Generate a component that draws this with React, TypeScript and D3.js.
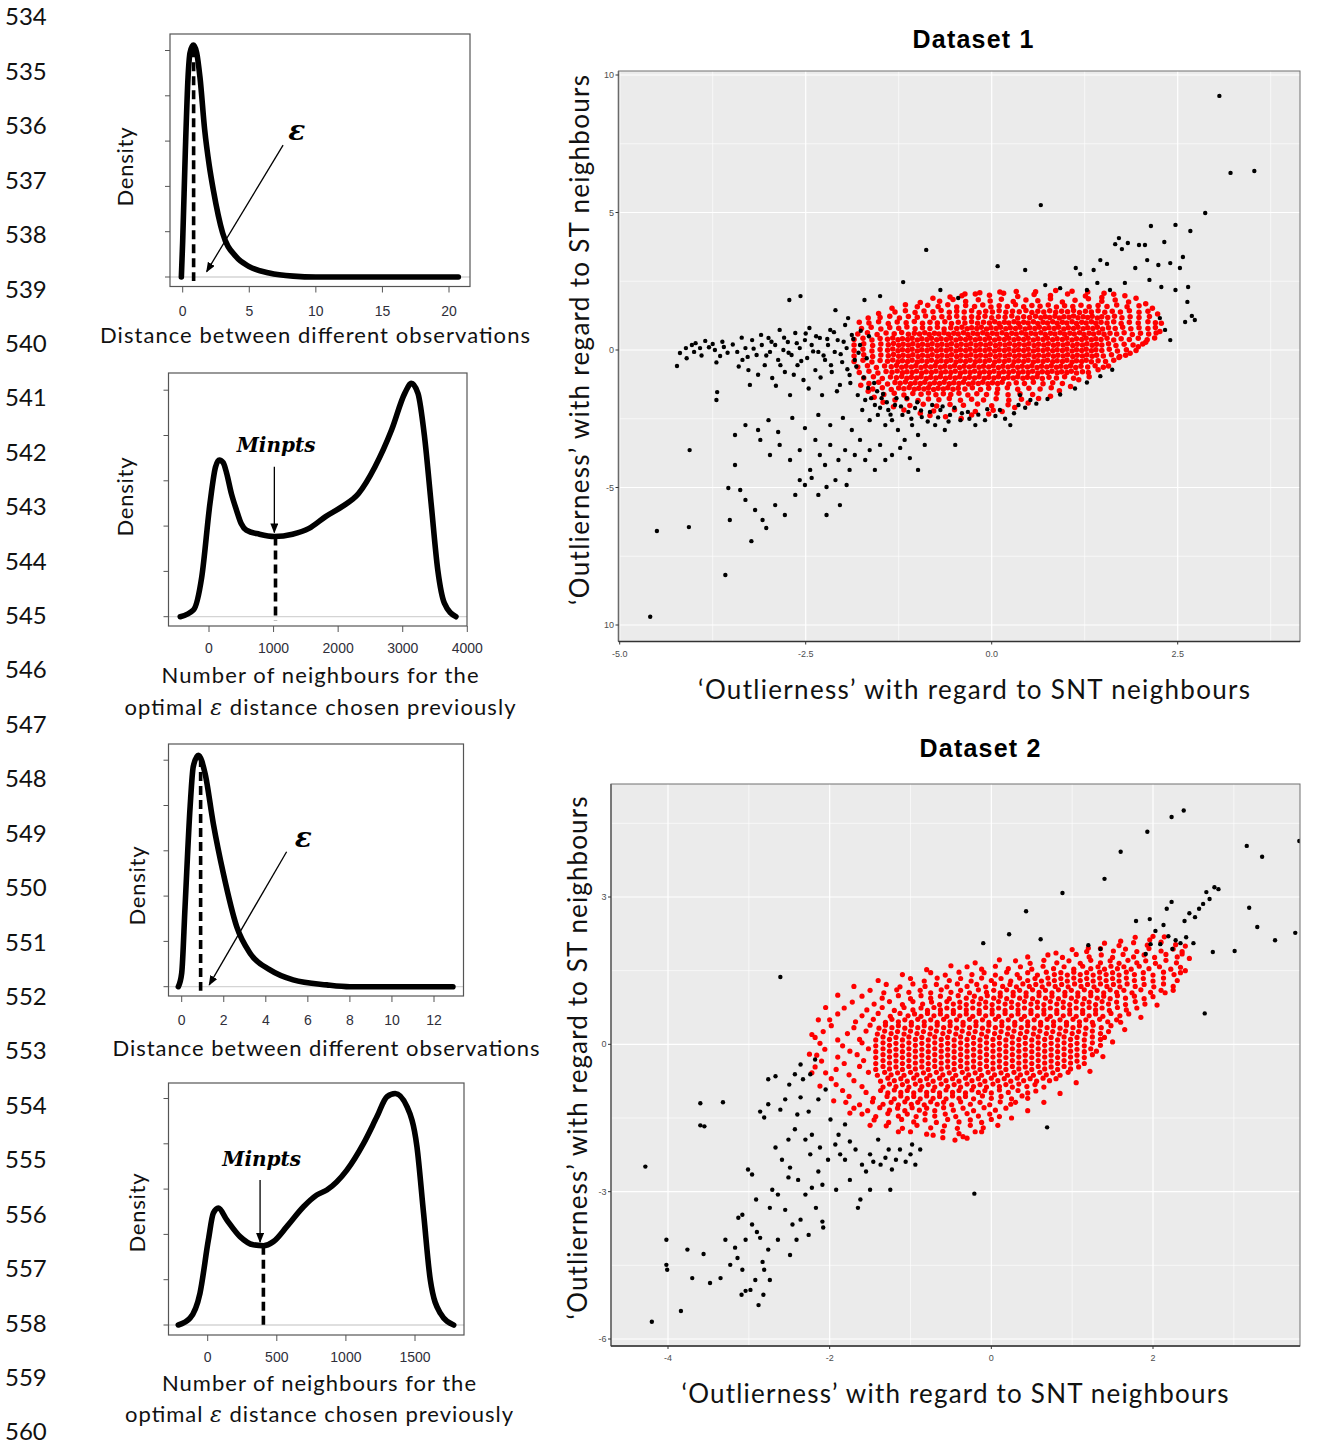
import React from "react";
import * as d3 from "d3";

// ---------- text / labels ----------
const LINE_NUMBERS = ["534","535","536","537","538","539","540","541","542","543","544","545","546","547","548","549","550","551","552","553","554","555","556","557","558","559","560"];
const DENSITY_TICKS = [0, 0.1, 0.2, 0.3, 0.4, 0.5];

// ---------- density panel data (x value, density) ----------
const P1_X = [-0.1, 0, 0.2, 0.4, 0.55, 0.8, 1.05, 1.3, 1.65, 2.0, 2.3, 3.0, 4.0, 5.0, 6.5, 8.3, 10, 20.7];
const P1_D = [0, 0.08, 0.28, 0.44, 0.495, 0.512, 0.495, 0.44, 0.325, 0.245, 0.192, 0.097, 0.045, 0.023, 0.009, 0.002, 0, 0];
const P1_TICKS = [0, 5, 10, 15, 20];

const P2_X = [-445, -240, -112, 15, 100, 160, 220, 271, 350, 424, 500, 578, 782, 1012, 1293, 1549, 1805, 2060, 2316, 2571, 2827, 3031, 3133, 3236, 3338, 3440, 3543, 3645, 3824];
const P2_D = [0, 0.015, 0.088, 0.25, 0.33, 0.346, 0.34, 0.318, 0.27, 0.236, 0.205, 0.191, 0.182, 0.177, 0.182, 0.195, 0.221, 0.243, 0.272, 0.331, 0.412, 0.493, 0.515, 0.493, 0.397, 0.25, 0.103, 0.03, 0];
const P2_TICKS = [0, 1000, 2000, 3000, 4000];

const P3_X = [-0.16, 0, 0.16, 0.4, 0.55, 0.79, 1.11, 1.5, 1.98, 2.62, 3.25, 4.2, 5.3, 6.9, 8, 12.9];
const P3_D = [0, 0.03, 0.177, 0.397, 0.486, 0.511, 0.471, 0.361, 0.25, 0.132, 0.074, 0.037, 0.015, 0.004, 0, 0];
const P3_TICKS = [0, 2, 4, 6, 8, 10, 12];

const P4_X = [-213, -128, -56, 5, 41, 77, 138, 234, 330, 403, 475, 572, 693, 789, 862, 1007, 1128, 1225, 1297, 1357, 1442, 1514, 1562, 1611, 1683, 1780];
const P4_D = [0, 0.015, 0.07, 0.188, 0.247, 0.258, 0.232, 0.195, 0.177, 0.175, 0.184, 0.217, 0.261, 0.287, 0.298, 0.342, 0.401, 0.46, 0.504, 0.511, 0.482, 0.394, 0.247, 0.099, 0.026, 0];
const P4_TICKS = [0, 500, 1000, 1500];

// ---------- scatter data (x,y pairs, values x100) ----------
const DS1_RED = [
-40,197, -22,204, -3,199, 16,206, 35,195, 57,202, 79,198, 102,204, 126,196, 148,191,
-70,177, -52,184, -35,176, -18,183, -2,178, 13,185, 29,176, 46,182, 62,179, 79,186, 95,175, 112,181, 130,186, 148,177, 166,182, 184,175,
-100,157, -86,163, -72,158, -59,165, -47,156, -35,162, -23,158, -12,164, -1,156, 10,161, 21,158, 32,165, 43,157, 54,162, 65,159, 76,164, 87,156, 98,161, 109,158, 120,163, 131,157, 143,162, 155,158, 168,164, 182,157, 198,161,
-130,138, -116,143, -103,136, -91,142, -79,139, -68,144, -57,137, -47,141, -37,138, -27,143, -17,136, -8,141, 1,138, 10,143, 19,137, 28,141, 37,139, 46,144, 54,136, 62,141, 70,138, 78,143, 86,137, 94,141, 102,139, 110,144, 118,136, 126,141, 134,138, 143,143, 152,137, 162,141, 173,138, 185,143, 198,137, 210,141,
-150,118, -137,123, -124,116, -112,122, -100,119, -89,124, -78,117, -67,121, -57,118, -47,123, -37,116, -27,121, -18,118, -9,123, 0,117, 9,121, 18,119, 27,124, 35,116, 43,121, 51,118, 59,123, 66,117, 72,121, 78,118, 85,123, 91,116, 97,121, 104,119, 110,124, 116,117, 123,121, 129,118, 135,123, 142,116, 148,121, 156,118, 165,123, 175,117, 186,121, 198,118, 212,122,
-165,98, -152,103, -139,96, -127,102, -115,99, -104,104, -93,97, -83,101, -73,98, -63,103, -54,96, -45,101, -36,98, -27,103, -19,97, -11,101, -3,98, 4,103, 10,96, 17,101, 23,98, 30,103, 36,97, 43,101, 49,98, 56,103, 62,96, 69,101, 75,98, 82,103, 88,97, 95,101, 101,98, 108,103, 114,96, 121,101, 127,98, 134,103, 140,97, 147,101, 155,98, 164,103, 174,96, 185,101, 197,98, 210,103, 220,99,
-175,78, -162,83, -149,76, -137,82, -125,79, -114,84, -103,77, -93,81, -83,78, -73,83, -64,76, -55,81, -47,78, -40,83, -33,77, -27,81, -20,78, -14,83, -7,76, -1,81, 6,78, 12,83, 19,77, 25,81, 32,78, 38,83, 45,76, 51,81, 58,78, 64,83, 71,77, 77,81, 84,78, 90,83, 97,76, 103,81, 110,78, 116,83, 123,77, 129,81, 136,78, 142,83, 149,76, 157,81, 166,78, 176,83, 187,77, 198,81, 210,78, 220,82,
-180,58, -167,63, -154,56, -142,62, -131,59, -121,64, -112,57, -104,61, -97,58, -90,63, -84,56, -77,61, -71,58, -64,63, -58,57, -51,61, -45,58, -38,63, -32,56, -25,61, -19,58, -12,63, -6,57, 1,61, 7,58, 14,63, 20,56, 27,61, 33,58, 40,63, 46,57, 53,61, 59,58, 66,63, 72,56, 79,61, 85,58, 92,63, 98,57, 105,61, 111,58, 118,63, 124,56, 131,61, 137,58, 144,63, 151,57, 159,61, 168,58, 178,63, 189,56, 200,61, 211,58, 221,62,
-185,38, -173,43, -161,36, -150,42, -140,39, -133,44, -126,37, -120,41, -113,38, -107,43, -100,36, -94,41, -87,38, -81,43, -74,37, -68,41, -61,38, -55,43, -48,36, -42,41, -35,38, -29,43, -22,37, -16,41, -9,38, -3,43, 4,36, 10,41, 17,38, 23,43, 30,37, 36,41, 43,38, 49,43, 56,36, 62,41, 69,38, 75,43, 82,37, 88,41, 95,38, 101,43, 108,36, 114,41, 121,38, 127,43, 134,37, 140,41, 147,38, 155,43, 164,36, 174,41, 185,38, 197,43, 209,37,
-185,18, -172,23, -160,16, -149,22, -139,19, -132,24, -125,17, -119,21, -112,18, -106,23, -99,16, -93,21, -86,18, -80,23, -73,17, -67,21, -60,18, -54,23, -47,16, -41,21, -34,18, -28,23, -21,17, -15,21, -8,18, -2,23, 5,16, 11,21, 18,18, 24,23, 31,17, 37,21, 44,18, 50,23, 57,16, 63,21, 70,18, 76,23, 83,17, 89,21, 96,18, 102,23, 109,16, 115,21, 122,18, 128,23, 135,17, 141,21, 148,18, 157,23, 167,16, 178,21, 190,18, 203,22,
-185,-2, -173,3, -161,-4, -150,2, -140,-1, -133,4, -126,-3, -120,1, -113,-2, -107,3, -100,-4, -94,1, -87,-2, -81,3, -74,-3, -68,1, -61,-2, -55,3, -48,-4, -42,1, -35,-2, -29,3, -22,-3, -16,1, -9,-2, -3,3, 4,-4, 10,1, 17,-2, 23,3, 30,-3, 36,1, 43,-2, 49,3, 56,-4, 62,1, 69,-2, 75,3, 82,-3, 88,1, 95,-2, 101,3, 108,-4, 114,1, 121,-2, 127,3, 134,-3, 140,1, 148,-2, 158,3, 169,-4, 181,1, 194,-2,
-185,-22, -172,-17, -160,-24, -149,-18, -139,-21, -132,-16, -125,-23, -119,-19, -112,-22, -106,-17, -99,-24, -93,-19, -86,-22, -80,-17, -73,-23, -67,-19, -60,-22, -54,-17, -47,-24, -41,-19, -34,-22, -28,-17, -21,-23, -15,-19, -8,-22, -2,-17, 5,-24, 11,-19, 18,-22, 24,-17, 31,-23, 37,-19, 44,-22, 50,-17, 57,-24, 63,-19, 70,-22, 76,-17, 83,-23, 89,-19, 96,-22, 102,-17, 109,-24, 115,-19, 122,-22, 128,-17, 135,-23, 141,-19, 150,-22, 161,-17, 172,-24, 180,-19,
-185,-42, -173,-37, -161,-44, -150,-38, -140,-41, -133,-36, -126,-43, -120,-39, -113,-42, -107,-37, -100,-44, -94,-39, -87,-42, -81,-37, -74,-43, -68,-39, -61,-42, -55,-37, -48,-44, -42,-39, -35,-42, -29,-37, -22,-43, -16,-39, -9,-42, -3,-37, 4,-44, 10,-39, 17,-42, 23,-37, 30,-43, 36,-39, 43,-42, 49,-37, 56,-44, 62,-39, 69,-42, 75,-37, 82,-43, 88,-39, 95,-42, 101,-37, 108,-44, 114,-39, 121,-42, 127,-37, 134,-43, 143,-39, 153,-42, 164,-37,
-180,-62, -167,-57, -155,-64, -144,-58, -135,-61, -128,-56, -121,-63, -115,-59, -108,-62, -102,-57, -95,-64, -89,-59, -82,-62, -76,-57, -69,-63, -63,-59, -56,-62, -50,-57, -43,-64, -37,-59, -30,-62, -24,-57, -17,-63, -11,-59, -4,-62, 2,-57, 9,-64, 15,-59, 22,-62, 28,-57, 35,-63, 41,-59, 48,-62, 54,-57, 61,-64, 67,-59, 74,-62, 80,-57, 87,-63, 93,-59, 100,-62, 106,-57, 113,-64, 120,-59, 129,-62, 139,-57, 150,-63,
-178,-82, -165,-77, -153,-84, -142,-78, -134,-81, -127,-76, -120,-83, -114,-79, -107,-82, -101,-77, -94,-84, -88,-79, -81,-82, -75,-77, -68,-83, -62,-79, -55,-82, -49,-77, -42,-84, -36,-79, -29,-82, -23,-77, -16,-83, -10,-79, -3,-82, 3,-77, 10,-84, 16,-79, 23,-82, 29,-77, 36,-83, 42,-79, 49,-82, 55,-77, 62,-84, 68,-79, 75,-82, 81,-77, 88,-83, 94,-79, 101,-82, 107,-77, 114,-84, 122,-79, 130,-82,
-172,-102, -159,-97, -147,-104, -136,-98, -128,-101, -121,-96, -114,-103, -108,-99, -101,-102, -95,-97, -88,-104, -82,-99, -75,-102, -69,-97, -62,-103, -56,-99, -49,-102, -43,-97, -36,-104, -30,-99, -23,-102, -17,-97, -10,-103, -4,-99, 3,-102, 9,-97, 16,-104, 22,-99, 29,-102, 35,-97, 42,-103, 48,-99, 55,-102, 61,-97, 68,-104, 77,-99, 87,-102, 98,-97, 110,-103,
-165,-122, -152,-117, -140,-124, -130,-118, -123,-121, -116,-116, -109,-123, -103,-119, -96,-122, -90,-117, -83,-124, -77,-119, -70,-122, -64,-117, -57,-123, -51,-119, -44,-122, -38,-117, -31,-124, -25,-119, -18,-122, -12,-117, -5,-123, 1,-119, 8,-122, 14,-117, 23,-124, 33,-119, 44,-122, 56,-117, 69,-123, 82,-119, 95,-122,
-160,-142, -147,-137, -135,-144, -125,-138, -118,-141, -111,-136, -104,-143, -98,-139, -91,-142, -85,-137, -78,-144, -72,-139, -65,-142, -59,-137, -52,-143, -45,-139, -36,-142, -26,-137, -15,-144, -4,-139, 8,-142, 21,-137, 35,-143, 50,-139, 65,-142, 80,-137,
-145,-162, -131,-157, -118,-164, -106,-158, -95,-161, -85,-156, -75,-163, -65,-159, -55,-162, -44,-157, -32,-164, -20,-159, -7,-162, 7,-157, 22,-163, 38,-159, 55,-162,
-130,-182, -114,-177, -99,-184, -85,-178, -71,-181, -57,-176, -42,-183, -27,-179, -11,-182, 6,-177, 23,-183, 40,-179,
-110,-202, -92,-197, -74,-204, -56,-198, -38,-201, -19,-196, 0,-203, 22,-199,
-78,-222, -50,-217, -22,-224, 2,-219,
-176,-128, -166,-150, -158,-172, -146,-190, -132,-206, -118,-218, -96,-230, -83,-238, -62,-243, -41,-249, -27,-236, -4,-233, 14,-224, 31,-209, 49,-193, 63,-176, 79,-168, 91,-148, 106,-133, 117,-108, 131,-97, 143,-72, 157,-58, 171,-27, 186,-12, 197,12, 207,28, 219,44, 226,67, 228,97, 223,131, 216,152, 207,168, 194,188, 179,197, 164,203, 151,206, 129,211, 108,214, 86,216, 59,212, 33,213, 11,211, -16,208, -36,204, -56,193, -79,188, -96,173, -116,165, -134,152, -152,133, -166,116, -178,101
];

const DS1_BLACK = [
306,924, 321,644, 353,651, 66,527, 287,498, 267,433, 247,455, 214,451, 232,393, 198,382, 166,385, 175,367, 183,389, 146,327, 155,313, 137,291, 119,276, 113,298, 193,298, 209,327, 224,309, 240,316, 253,298, 257,338, 212,255, 228,229, 247,218, 264,229, 263,175, 269,124, 273,109, 260,102, 233,73, 240,36, 226,116, 179,244, 159,218, 142,244, 128,218, 92,225, 72,236, 8,305, 45,291, 206,382, 171,407,
-88,364, -119,247, -150,196, -171,182, -257,196, -272,182, -210,145, -193,116, -45,189, -69,218,
-423,-58, -419,-11, -411,7, -403,18, -392,7, -400,-7, -385,33, -375,22, -372,0, -365,-22, -360,11, -406,-364, -369,-153, -370,-182,
-342,-7, -335,-36, -331,7, -327,-73, -325,-127, -322,36, -316,-18, -309,18, -305,-55, -300,44, -298,-7, -295,-102, -291,18, -287,-36, -285,73, -280,0, -278,-80, -274,29, -271,-164, -269,-18, -264,62, -261,-55, -258,7, -253,-109, -251,36, -248,-29, -245,80, -242,18, -237,-73, -233,-7, -231,44, -228,-164, -224,-36, -220,18, -217,73, -215,-80, -211,-7, -207,36, -204,-127, -201,-44, -197,91, -195,7, -191,-91, -188,55, -184,-36, -180,-164, -177,18,
-174,-218, -170,-182, -166,-138, -164,-255, -157,-200, -153,-236, -148,-175, -143,-273, -139,-218, -134,-255, -130,-200, -126,-291, -120,-236, -117,-327, -112,-225, -107,-273, -103,-211, -99,-309, -94,-244, -90,-345, -83,-225, -76,-273, -69,-218, -63,-291, -56,-236, -49,-345, -42,-255, -32,-225, -22,-273, -9,-255, 11,-218, 25,-273, 36,-200, 52,-182, 38,-164,
-311,-327, -298,-382, -285,-345, -271,-400, -258,-364, -244,-436, -237,-327, -231,-382, -224,-418, -217,-345, -210,-473, -206,-400, -197,-364, -191,-436, -184,-382, -177,-327, -170,-400, -164,-364, -157,-436, -150,-345, -143,-400, -134,-382, -123,-356, -110,-393, -99,-436,
-258,-473, -251,-491, -242,-465, -233,-527, -222,-498, -204,-564, -222,-600, -195,-491, -345,-418, -338,-509, -354,-502, -331,-545, -318,-582, -308,-618, -303,-647, -291,-564, -278,-600, -264,-527, -352,-618,
-345,-309, -331,-273, -314,-291, -300,-255, -287,-298, -268,-247, -251,-284, -233,-236, -217,-273, -200,-247, -188,-291,
-459,-970, -450,-658, -407,-644, -358,-818, -323,-695,
-410,-30, -398,25, -390,-20, -380,10, -370,-45, -362,30, -355,-10, -348,20, -340,-60, -336,45, -328,-25, -320,5, -314,-90, -310,55, -303,-20, -296,30, -290,-130, -284,-55, -279,45, -273,-10, -266,-90, -262,25, -256,-40, -250,60, -246,-140, -240,-5, -236,50, -230,-100, -226,-20, -221,40, -216,-55, -212,65, -208,-150, -203,-15, -199,30, -194,-70, -190,-120, -186,40, -182,-60, -179,-10, -176,70, -172,-100, -168,-30, -165,50,
-162,-175, -158,-120, -154,-150, -150,-210, -146,-160, -141,-190, -136,-235, -128,-175, -122,-205, -114,-175, -108,-250, -100,-190, -95,-220, -86,-260, -80,-200, -72,-245, -66,-205, -58,-260, -50,-210, -40,-230, -30,-250, -18,-235, -6,-215, 5,-240, 18,-250, 30,-230, 45,-210, 60,-195, 75,-178, 92,-162, 112,-140, 128,-118, 146,-95, 162,-72
];

const DS2_RED = [
178,218, 196,213, 214,219,
140,206, 158,201, 176,207, 193,202, 210,208, 228,203,
100,193, 118,189, 135,195, 151,190, 166,194, 180,189, 195,195, 210,190, 225,194, 236,189,
70,182, 88,177, 105,183, 121,178, 136,182, 150,177, 163,183, 176,178, 189,182, 202,177, 216,183, 230,178, 236,184,
30,170, 48,165, 65,171, 81,166, 96,170, 110,165, 123,171, 135,166, 147,170, 158,165, 169,171, 180,166, 191,170, 203,165, 216,171, 229,166,
-30,158, -12,153, 5,159, 21,154, 36,158, 50,153, 64,159, 77,154, 90,158, 102,153, 113,159, 123,154, 132,158, 140,153, 148,159, 156,154, 164,158, 173,153, 183,159, 195,154, 208,158, 222,153, 234,157,
-75,146, -57,141, -40,147, -24,142, -9,146, 5,141, 19,147, 32,142, 45,146, 57,141, 68,147, 78,142, 86,146, 94,141, 102,147, 110,142, 118,146, 126,141, 134,147, 142,142, 150,146, 158,141, 167,147, 177,142, 188,146, 200,141, 213,147, 226,142, 234,146,
-100,134, -83,129, -67,135, -52,130, -38,134, -25,129, -12,135, 0,130, 12,134, 24,129, 35,135, 45,130, 54,134, 62,129, 70,135, 78,130, 86,134, 94,129, 102,135, 110,130, 118,134, 126,129, 134,135, 142,130, 150,134, 158,129, 167,135, 177,130, 188,134, 200,129, 213,135, 230,130,
-130,122, -113,117, -97,123, -82,118, -68,122, -55,117, -42,123, -30,118, -18,122, -7,117, 4,123, 14,118, 23,122, 31,117, 39,123, 47,118, 55,122, 63,117, 71,123, 79,118, 87,122, 95,117, 103,123, 111,118, 119,122, 127,117, 135,123, 143,118, 151,122, 159,117, 168,123, 178,118, 189,122, 201,117, 213,123, 225,118,
-150,110, -133,105, -117,111, -102,106, -88,110, -75,105, -62,111, -50,106, -38,110, -27,105, -16,111, -6,106, 3,110, 11,105, 19,111, 27,106, 35,110, 43,105, 51,111, 59,106, 67,110, 75,105, 83,111, 91,106, 99,110, 107,105, 115,111, 123,106, 131,110, 139,105, 147,111, 155,106, 164,110, 174,105, 185,111, 197,106, 210,110, 215,105,
-160,98, -135,94, -115,99, -100,93, -87,99, -75,94, -63,98, -52,93, -41,99, -31,94, -21,98, -13,93, -5,99, 3,94, 11,98, 19,93, 27,99, 35,94, 43,98, 51,93, 59,99, 67,94, 75,98, 83,93, 91,99, 99,94, 107,98, 115,93, 123,99, 131,94, 139,98, 147,93, 156,99, 166,94, 177,98, 189,93, 200,97,
-172,86, -145,82, -126,87, -110,81, -97,87, -85,82, -74,86, -64,81, -55,87, -47,82, -39,86, -31,81, -23,87, -15,82, -7,86, 1,81, 9,87, 17,82, 25,86, 33,81, 41,87, 49,82, 57,86, 65,81, 73,87, 81,82, 89,86, 97,81, 105,87, 113,82, 121,86, 129,81, 137,87, 145,82, 155,86, 166,81, 178,87, 190,82,
-182,74, -154,70, -135,75, -120,69, -108,75, -97,70, -87,74, -79,69, -71,75, -63,70, -55,74, -47,69, -39,75, -31,70, -23,74, -15,69, -7,75, 1,70, 9,74, 17,69, 25,75, 33,70, 41,74, 49,69, 57,75, 65,70, 73,74, 81,69, 89,75, 97,70, 105,74, 113,69, 121,75, 129,70, 137,74, 146,69, 156,75, 167,70, 180,74,
-190,62, -160,58, -140,63, -125,57, -113,63, -103,58, -95,62, -87,57, -79,63, -71,58, -63,62, -55,57, -47,63, -39,58, -31,62, -23,57, -15,63, -7,58, 1,62, 9,57, 17,63, 25,58, 33,62, 41,57, 49,63, 57,58, 65,62, 73,57, 81,63, 89,58, 97,62, 105,57, 113,63, 121,58, 129,62, 138,57, 148,63, 159,58, 170,62,
-200,50, -168,46, -146,51, -131,45, -123,51, -115,46, -107,50, -99,45, -91,51, -83,46, -75,50, -67,45, -59,51, -51,46, -43,50, -35,45, -27,51, -19,46, -11,50, -3,45, 5,51, 13,46, 21,50, 29,45, 37,51, 45,46, 53,50, 61,45, 69,51, 77,46, 85,50, 93,45, 101,51, 109,46, 117,50, 125,45, 134,51, 144,46, 155,50, 160,45,
-198,38, -170,34, -150,39, -139,33, -131,39, -123,34, -115,38, -107,33, -99,39, -91,34, -83,38, -75,33, -67,39, -59,34, -51,38, -43,33, -35,39, -27,34, -19,38, -11,33, -3,39, 5,34, 13,38, 21,33, 29,39, 37,34, 45,38, 53,33, 61,39, 69,34, 77,38, 85,33, 93,39, 101,34, 109,38, 117,33, 126,39, 136,34, 148,38,
-208,26, -178,22, -155,27, -141,21, -132,27, -124,22, -116,26, -108,21, -100,27, -92,22, -84,26, -76,21, -68,27, -60,22, -52,26, -44,21, -36,27, -28,22, -20,26, -12,21, -4,27, 4,22, 12,26, 20,21, 28,27, 36,22, 44,26, 52,21, 60,27, 68,22, 76,26, 84,21, 92,27, 100,22, 108,26, 116,21, 125,27, 135,22, 145,26,
-218,14, -190,9, -163,10, -143,9, -134,15, -126,10, -118,14, -110,9, -102,15, -94,10, -86,14, -78,9, -70,15, -62,10, -54,14, -46,9, -38,15, -30,10, -22,14, -14,9, -6,15, 2,10, 10,14, 18,9, 26,15, 34,10, 42,14, 50,9, 58,15, 66,10, 74,14, 82,9, 90,15, 98,10, 106,14, 115,9, 125,15, 135,10, 140,14,
-212,2, -184,-3, -160,3, -143,-3, -134,3, -126,-2, -118,2, -110,-3, -102,3, -94,-2, -86,2, -78,-3, -70,3, -62,-2, -54,2, -46,-3, -38,3, -30,-2, -22,2, -14,-3, -6,3, 2,-2, 10,2, 18,-3, 26,3, 34,-2, 42,2, 50,-3, 58,3, 66,-2, 74,2, 82,-3, 90,3, 98,-2, 106,2, 115,-3, 125,3, 135,-2,
-206,-10, -175,-14, -152,-9, -143,-15, -134,-9, -126,-14, -118,-10, -110,-15, -102,-9, -94,-14, -86,-10, -78,-15, -70,-9, -62,-14, -54,-10, -46,-15, -38,-9, -30,-14, -22,-10, -14,-15, -6,-9, 2,-14, 10,-10, 18,-15, 26,-9, 34,-14, 42,-10, 50,-15, 58,-9, 66,-14, 74,-10, 82,-15, 90,-9, 98,-14, 106,-10, 115,-15, 123,-9, 130,-14,
-216,-22, -190,-26, -166,-21, -143,-27, -134,-21, -126,-26, -118,-22, -110,-27, -102,-21, -94,-26, -86,-22, -78,-27, -70,-21, -62,-26, -54,-22, -46,-27, -38,-21, -30,-26, -22,-22, -14,-27, -6,-21, 2,-26, 10,-22, 18,-27, 26,-21, 34,-26, 42,-22, 50,-27, 58,-21, 66,-26, 74,-22, 82,-27, 90,-21, 98,-26, 106,-22, 115,-27, 125,-21,
-210,-34, -182,-39, -158,-33, -143,-39, -134,-33, -126,-38, -118,-34, -110,-39, -102,-33, -94,-38, -86,-34, -78,-39, -70,-33, -62,-38, -54,-34, -46,-39, -38,-33, -30,-38, -22,-34, -14,-39, -6,-33, 2,-38, 10,-34, 18,-39, 26,-33, 34,-38, 42,-34, 50,-39, 58,-33, 66,-38, 74,-34, 82,-39, 90,-33, 98,-38, 106,-34, 115,-39,
-218,-46, -192,-51, -163,-45, -143,-51, -134,-45, -126,-50, -118,-46, -110,-51, -102,-45, -94,-50, -86,-46, -78,-51, -70,-45, -62,-50, -54,-46, -46,-51, -38,-45, -30,-50, -22,-46, -14,-51, -6,-45, 2,-50, 10,-46, 18,-51, 26,-45, 34,-50, 42,-46, 50,-51, 58,-45, 66,-50, 74,-46, 82,-51, 90,-45, 98,-50, 108,-46,
-205,-58, -176,-62, -152,-57, -141,-63, -132,-57, -124,-62, -116,-58, -108,-63, -100,-57, -92,-62, -84,-58, -76,-63, -68,-57, -60,-62, -52,-58, -44,-63, -36,-57, -28,-62, -20,-58, -12,-63, -4,-57, 4,-62, 12,-58, 20,-63, 28,-57, 36,-62, 44,-58, 52,-63, 60,-57, 68,-62, 76,-58, 85,-63, 95,-57,
-198,-70, -170,-74, -137,-75, -128,-69, -120,-74, -112,-70, -104,-75, -96,-69, -88,-74, -80,-70, -72,-75, -64,-69, -56,-74, -48,-70, -40,-75, -32,-69, -24,-74, -16,-70, -8,-75, 0,-69, 8,-74, 16,-70, 24,-75, 32,-69, 40,-74, 48,-70, 56,-75, 64,-69, 72,-74, 80,-70,
-192,-82, -160,-86, -134,-87, -126,-81, -118,-86, -110,-82, -102,-87, -94,-81, -86,-86, -78,-82, -70,-87, -62,-81, -54,-86, -46,-82, -38,-87, -30,-81, -22,-86, -14,-82, -6,-87, 2,-81, 10,-86, 18,-82, 26,-87, 34,-81, 44,-86, 54,-82, 65,-87,
-184,-94, -155,-98, -137,-94, -128,-99, -120,-93, -112,-98, -104,-94, -96,-99, -88,-93, -80,-98, -72,-94, -64,-99, -56,-93, -48,-98, -40,-94, -32,-99, -24,-93, -16,-98, -8,-94, 0,-99, 10,-93, 21,-98, 33,-94, 45,-99, 55,-95,
-176,-106, -146,-110, -129,-106, -120,-111, -112,-105, -104,-110, -96,-106, -88,-111, -80,-105, -72,-110, -64,-106, -56,-111, -48,-105, -40,-110, -32,-106, -22,-111, -11,-105, 0,-110, 12,-106, 25,-111, 38,-105, 45,-110,
-180,-118, -163,-123, -147,-117, -134,-122, -124,-118, -115,-123, -107,-117, -99,-122, -91,-118, -83,-123, -75,-117, -67,-122, -59,-118, -49,-123, -38,-117, -26,-122, -14,-118, -2,-123, 11,-117, 24,-122, 30,-118,
-170,-130, -153,-135, -138,-129, -126,-134, -116,-130, -107,-135, -98,-129, -89,-134, -80,-130, -70,-135, -59,-129, -47,-134, -35,-130, -22,-135, -9,-129, 5,-134, 18,-130,
-160,-142, -143,-147, -128,-141, -115,-146, -104,-142, -93,-147, -82,-141, -70,-146, -57,-142, -44,-147, -30,-141, -16,-146, -2,-142, 10,-147,
-145,-154, -127,-159, -111,-153, -96,-158, -82,-154, -68,-159, -54,-153, -40,-158, -26,-154, -12,-159, 0,-153,
-130,-166, -110,-171, -92,-165, -75,-170, -58,-166, -42,-171, -26,-165, -10,-170,
-100,-178, -80,-183, -60,-177, -40,-182, -20,-178,
-60,-190, -45,-195, -30,-191,
-140,130, -110,142, -80,152, -50,160, -20,166, 10,172, 45,178, 80,186, 120,196, 160,210, 200,220, 240,200, 245,175, 240,150, 225,110, 205,80, 185,55, 165,30, 150,5, 138,-25, 122,-55, 105,-78, 85,-100, 65,-118, 45,-135, 25,-150, 8,-165, -12,-178, -35,-188, -72,-185, -115,-178, -150,-165, -175,-140, -195,-115, -212,-85, -222,-58, -225,-20, -222,20, -214,50, -205,75, -190,100, -170,118
];

const DS2_BLACK = [
238,476, 223,463, 193,433, 160,392, 316,404, 335,382, 381,414, 140,337, 88,308, 276,320, 281,316, 266,310, 270,296, 262,286, 257,276, 252,259, 245,267, 239,251, 223,290, 217,276, 43,271, 319,278, 329,239, 376,227, 351,212, 301,190, 274,188, 264,63, 179,251, 196,255, 197,204, 213,243, 219,220, 228,212, 234,206, 241,218, 250,206, 224,194, 209,204, 191,184, 203,231, 22,224, 61,214, -10,206, 120,202, 135,194, 69,-169, -21,-304, -261,137,
-428,-249, -420,-565, -384,-543, -402,-398, -402,-449, -401,-459, -376,-418, -356,-427, -370,-476, -348,-486, -335,-476, -360,-120, -355,-167, -360,-165, -332,-118, -314,-435, -309,-510, -304,-502, -313,-353, -308,-347, -301,-255, -296,-265, -291,-316, -296,-367, -290,-382, -286,-394, -283,-443, -281,-459, -286,-137, -281,-149, -276,-122, -276,-71, -267,-65, -261,-133, -255,-112, -250,-82, -243,-61, -236,-108, -233,-71, -240,-143, -222,-184, -267,-210, -259,-235, -251,-271, -271,-296, -264,-306, -255,-337, -246,-367, -241,-398, -274,-333, -249,-251, -239,-276, -230,-306, -222,-292, -214,-259, -209,-286, -209,-361, -208,-373, -217,-333, -224,-224, -212,-210, -202,-235, -193,-204, -187,-224, -181,-235, -175,-198, -168,-214, -165,-333, -160,-245, -155,-259, -150,-224, -146,-239, -137,-245, -131,-231, -127,-214, -123,-255, -118,-235, -113,-214, -106,-239, -100,-224, -94,-245, -88,-214, -98,-204, -140,-194, -199,-153, -189,-184, -181,-163, -214,-112, -205,-92, -224,-61, -236,-41, -218,-31, -226,-137, -243,-173, -230,-194, -251,-194, -298,-500, -292,-480, -308,-459, -323,-449, -317,-414, -304,-398, -329,-398, -276,-418, -264,-398, -249,-429, -236,-357, -226,-388, -274,-480, -282,-510, -288,-531, -192,-296, -175,-276, -162,-316, -150,-296, -125,-296
];

const DS1_X_TICKS = [-5, -2.5, 0, 2.5];
const DS1_X_LABELS = ["-5.0", "-2.5", "0.0", "2.5"];
const DS1_X_MINOR = [-3.75, -1.25, 1.25, 3.75];
const DS1_Y_TICKS = [-10, -5, 0, 5, 10];
const DS1_Y_LABELS = ["10", "-5", "0", "5", "10"];
const DS1_Y_MINOR = [-7.5, -2.5, 2.5, 7.5];

const DS2_X_TICKS = [-4, -2, 0, 2];
const DS2_X_LABELS = ["-4", "-2", "0", "2"];
const DS2_X_MINOR = [-3, -1, 1, 3];
const DS2_Y_TICKS = [-6, -3, 0, 3];
const DS2_Y_LABELS = ["-6", "-3", "0", "3"];
const DS2_Y_MINOR = [-4.5, -1.5, 1.5, 4.5];

// ---------- layout ----------
const W = 1317, H = 1445;
const HUMAN = "Lato, 'Open Sans', sans-serif";
const ARIAL = "'Liberation Sans', Arial, sans-serif";
const SERIF = "'DejaVu Serif', 'Liberation Serif', serif";

const PANELS = [
  { box: [170, 34, 470, 286.5], xDomain: [0, 20], xRange: [182.7, 449], base: 277, xs: P1_X, ds: P1_D, ticks: P1_TICKS, tickY: 316,
    dashX: 0.82, dashTop: 0.505, kind: "eps", arrow: [7.54, 0.291, 1.8, 0.012], label: [8.57, 0.325],
    densityAt: [125, 167], titleX: 315, titleLines: [["Distance between different observations", 343, 430]] },
  { box: [168.5, 373, 467, 626], xDomain: [0, 4000], xRange: [209, 467.3], base: 616.7, xs: P2_X, ds: P2_D, ticks: P2_TICKS, tickY: 653,
    dashX: 1030, dashTop: 0.177, kind: "minpts", arrow: [1012, 0.331, 1012, 0.186], label: [1038, 0.364],
    densityAt: [125, 497], titleX: 320, titleLines: [["Number of neighbours for the", 683, 317], ["EPS", 715, 391]] },
  { box: [168.5, 744, 463.5, 996], xDomain: [0, 12], xRange: [181.7, 434], base: 986.7, xs: P3_X, ds: P3_D, ticks: P3_TICKS, tickY: 1025,
    dashX: 0.9, dashTop: 0.505, kind: "eps", arrow: [4.99, 0.298, 1.31, 0.004], label: [5.78, 0.331],
    densityAt: [137, 886], titleX: 326, titleLines: [["Distance between different observations", 1056, 427]] },
  { box: [168.5, 1083, 464, 1335], xDomain: [0, 1500], xRange: [207.7, 415], base: 1325, xs: P4_X, ds: P4_D, ticks: P4_TICKS, tickY: 1362,
    dashX: 403, dashTop: 0.175, kind: "minpts", arrow: [379, 0.32, 379, 0.183], label: [391, 0.35],
    densityAt: [137, 1213], titleX: 319, titleLines: [["Number of neighbours for the", 1391, 314], ["EPS", 1422, 388]] },
];

function pairs(flat: number[]) {
  const out: [number, number][] = [];
  for (let i = 0; i + 1 < flat.length; i += 2) out.push([flat[i] / 100, flat[i + 1] / 100]);
  return out;
}

function DensityPanel({ p }: any) {
  const x = d3.scaleLinear().domain(p.xDomain).range(p.xRange);
  const y = d3.scaleLinear().domain([0, 0.5]).range([p.base, p.base - 226.5]);
  const pts = p.xs.map((v: number, i: number) => [v, p.ds[i]]);
  const path = d3.line<any>().x((d) => x(d[0])).y((d) => y(d[1])).curve(d3.curveMonotoneX)(pts);
  const [l, t, r, b] = p.box;
  return (
    <g>
      <line x1={l} x2={r} y1={y(0)} y2={y(0)} stroke="#d4d4d4" strokeWidth={1.3} />
      <path d={path || ""} fill="none" stroke="#000" strokeWidth={5.6} strokeLinejoin="round" strokeLinecap="round" />
      <line x1={x(p.dashX)} x2={x(p.dashX)} y1={y(p.dashTop)} y2={p.base + 4} stroke="#000" strokeWidth={3.6} strokeDasharray="9,5" />
      <rect x={l} y={t} width={r - l} height={b - t} fill="none" stroke="#555" strokeWidth={1.2} />
      {DENSITY_TICKS.map((v) => (
        <line key={"yt" + v} x1={l - 5} x2={l} y1={y(v)} y2={y(v)} stroke="#555" strokeWidth={1} />
      ))}
      {p.ticks.map((v: number) => (
        <g key={"xt" + v}>
          <line x1={x(v)} x2={x(v)} y1={b} y2={b + 6} stroke="#555" strokeWidth={1} />
          <text x={x(v)} y={p.tickY} textAnchor="middle" fontFamily={ARIAL} fontSize={14} fill="#2f2f3a">{v}</text>
        </g>
      ))}
      <line x1={x(p.arrow[0])} y1={y(p.arrow[1])} x2={x(p.arrow[2])} y2={y(p.arrow[3])} stroke="#000" strokeWidth={1.3} markerEnd="url(#arrowhead)" />
      {p.kind === "eps" ? (
        <text x={x(p.label[0])} y={y(p.label[1])} dy="0.35em" textAnchor="middle" fontFamily={SERIF} fontStyle="italic" fontWeight="bold" fontSize={28}>ε</text>
      ) : (
        <text x={x(p.label[0])} y={y(p.label[1])} textAnchor="middle" fontFamily={SERIF} fontStyle="italic" fontWeight="bold" fontSize={20}>Minpts</text>
      )}
      <text transform={`translate(${p.densityAt[0]},${p.densityAt[1]}) rotate(-90)`} dy="0.35em" textAnchor="middle" fontFamily={HUMAN} fontSize={22} textLength={79} fill="#111">Density</text>
      {p.titleLines.map((ln: any, i: number) => (
        <text key={"tl" + i} x={p.titleX} y={ln[1]} textAnchor="middle" fontFamily={HUMAN} fontSize={22} textLength={ln[2]} fill="#111">
          {ln[0] === "EPS" ? (
            <>
              optimal <tspan fontFamily={SERIF} fontStyle="italic">ε</tspan> distance chosen previously
            </>
          ) : ln[0]}
        </text>
      ))}
    </g>
  );
}

const SCATTERS = [
  { box: [618.5, 71, 1300, 641.5], xDomain: [-5, 2.5], xRange: [619.7, 1177.7], yDomain: [-10, 10], yRange: [625, 75],
    xTicks: DS1_X_TICKS, xLabels: DS1_X_LABELS, xMinor: DS1_X_MINOR, yTicks: DS1_Y_TICKS, yLabels: DS1_Y_LABELS, yMinor: DS1_Y_MINOR,
    red: DS1_RED, black: DS1_BLACK, redR: 2.75, title: "Dataset 1", titleAt: [973, 48],
    yTitle: "\u2018Outlierness\u2019 with regard to ST neighbours", yTitleAt: [580, 340], yTitleLen: 530,
    xTitle: "\u2018Outlierness\u2019 with regard to SNT neighbours", xTitleAt: [974, 699], xTitleLen: 552 },
  { box: [611, 784, 1300, 1346], xDomain: [-4, 2], xRange: [668, 1153], yDomain: [-6, 3], yRange: [1339, 897],
    xTicks: DS2_X_TICKS, xLabels: DS2_X_LABELS, xMinor: DS2_X_MINOR, yTicks: DS2_Y_TICKS, yLabels: DS2_Y_LABELS, yMinor: DS2_Y_MINOR,
    red: DS2_RED, black: DS2_BLACK, redR: 2.6, title: "Dataset 2", titleAt: [980, 757],
    yTitle: "\u2018Outlierness\u2019 with regard to ST neighbours", yTitleAt: [578, 1058], yTitleLen: 523,
    xTitle: "\u2018Outlierness\u2019 with regard to SNT neighbours", xTitleAt: [955, 1403], xTitleLen: 547 },
];

function Scatter({ s, id }: any) {
  const x = d3.scaleLinear().domain(s.xDomain).range(s.xRange);
  const y = d3.scaleLinear().domain(s.yDomain).range(s.yRange);
  const [l, t, r, b] = s.box;
  const red = pairs(s.red);
  const black = pairs(s.black);
  return (
    <g>
      <defs>
        <clipPath id={"clip" + id}><rect x={l} y={t} width={r - l} height={b - t} /></clipPath>
      </defs>
      <rect x={l} y={t} width={r - l} height={b - t} fill="#EBEBEB" />
      <g clipPath={`url(#clip${id})`}>
        {s.xMinor.map((v: number) => <line key={"xm" + v} x1={x(v)} x2={x(v)} y1={t} y2={b} stroke="#fff" strokeWidth={0.6} />)}
        {s.yMinor.map((v: number) => <line key={"ym" + v} x1={l} x2={r} y1={y(v)} y2={y(v)} stroke="#fff" strokeWidth={0.6} />)}
        {s.xTicks.map((v: number) => <line key={"xM" + v} x1={x(v)} x2={x(v)} y1={t} y2={b} stroke="#fff" strokeWidth={1.2} />)}
        {s.yTicks.map((v: number) => <line key={"yM" + v} x1={l} x2={r} y1={y(v)} y2={y(v)} stroke="#fff" strokeWidth={1.2} />)}
        {red.map((d, i) => <circle key={"r" + i} cx={x(d[0])} cy={y(d[1])} r={s.redR} fill="#FF0000" />)}
        {black.map((d, i) => <circle key={"b" + i} cx={x(d[0])} cy={y(d[1])} r={2.2} fill="#000" />)}
      </g>
      <rect x={l} y={t} width={r - l} height={b - t} fill="none" stroke="#707070" strokeWidth={1} />
      <line x1={l} x2={l} y1={t} y2={b} stroke="#6a6a6a" strokeWidth={1.6} />
      <line x1={l} x2={r} y1={b} y2={b} stroke="#333" strokeWidth={1.6} />
      {s.yTicks.map((v: number, i: number) => (
        <g key={"yl" + v}>
          <line x1={l - 3} x2={l} y1={y(v)} y2={y(v)} stroke="#333" strokeWidth={1} />
          <text x={l - 4.5} y={y(v)} dy="0.35em" textAnchor="end" fontFamily={ARIAL} fontSize={9} fill="#4d4d4d">{s.yLabels[i]}</text>
        </g>
      ))}
      {s.xTicks.map((v: number, i: number) => (
        <g key={"xl" + v}>
          <line x1={x(v)} x2={x(v)} y1={b} y2={b + 3} stroke="#333" strokeWidth={1} />
          <text x={x(v)} y={b + 12} dy="0.35em" textAnchor="middle" fontFamily={ARIAL} fontSize={9} fill="#4d4d4d">{s.xLabels[i]}</text>
        </g>
      ))}
      <text x={s.titleAt[0]} y={s.titleAt[1]} textAnchor="middle" fontFamily={ARIAL} fontWeight="bold" fontSize={25} textLength={121} fill="#000">{s.title}</text>
      <text transform={`translate(${s.yTitleAt[0]},${s.yTitleAt[1]}) rotate(-90)`} dy="0.35em" textAnchor="middle" fontFamily={HUMAN} fontSize={26} textLength={s.yTitleLen} fill="#111">{s.yTitle}</text>
      <text x={s.xTitleAt[0]} y={s.xTitleAt[1]} textAnchor="middle" fontFamily={HUMAN} fontSize={26} textLength={s.xTitleLen} fill="#111">{s.xTitle}</text>
    </g>
  );
}

export default function App() {
  const ln = d3.scalePoint<string>().domain(LINE_NUMBERS).range([17, 1432]);
  return (
    <svg width={W} height={H} viewBox={`0 0 ${W} ${H}`} style={{ position: "absolute", left: 0, top: 0, background: "#fff" }}>
      <defs>
        <marker id="arrowhead" markerUnits="userSpaceOnUse" markerWidth={10} markerHeight={8} refX={9} refY={4} orient="auto">
          <path d="M0,0 L10,4 L0,8 Z" fill="#000" />
        </marker>
      </defs>
      <rect x={0} y={0} width={W} height={H} fill="#fff" />
      {LINE_NUMBERS.map((n) => (
        <text key={n} x={5} y={ln(n)} dy="0.35em" fontFamily={HUMAN} fontSize={24} fill="#111">{n}</text>
      ))}
      {PANELS.map((p, i) => <DensityPanel key={"p" + i} p={p} />)}
      {SCATTERS.map((s, i) => <Scatter key={"s" + i} s={s} id={i} />)}
    </svg>
  );
}
